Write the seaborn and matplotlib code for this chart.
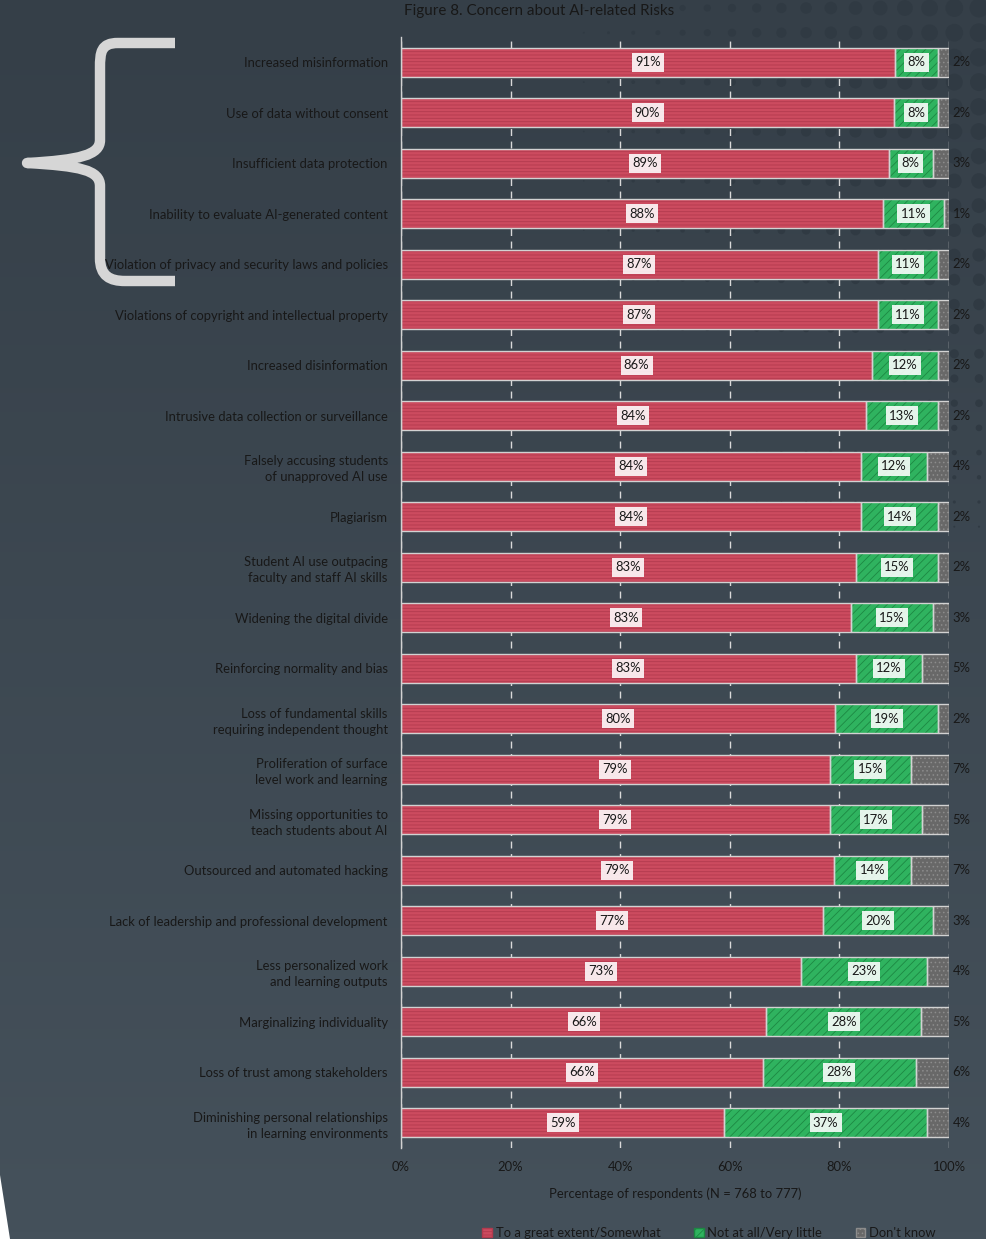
import numpy as np
import pandas as pd
import matplotlib
matplotlib.use("Agg")
import matplotlib.pyplot as plt
import seaborn as sns
from matplotlib.patches import Patch, Polygon, PathPatch
from matplotlib.path import Path
from matplotlib.colors import LinearSegmentedColormap

# ---------------- data ----------------
categories = [
    "Increased misinformation",
    "Use of data without consent",
    "Insufficient data protection",
    "Inability to evaluate AI-generated content",
    "Violation of privacy and security laws and policies",
    "Violations of copyright and intellectual property",
    "Increased disinformation",
    "Intrusive data collection or surveillance",
    "Falsely accusing students\nof unapproved AI use",
    "Plagiarism",
    "Student AI use outpacing\nfaculty and staff AI skills",
    "Widening the digital divide",
    "Reinforcing normality and bias",
    "Loss of fundamental skills\nrequiring independent thought",
    "Proliferation of surface\nlevel work and learning",
    "Missing opportunities to\nteach students about AI",
    "Outsourced and automated hacking",
    "Lack of leadership and professional development",
    "Less personalized work\nand learning outputs",
    "Marginalizing individuality",
    "Loss of trust among stakeholders",
    "Diminishing personal relationships\nin learning environments",
]
great = [91, 90, 89, 88, 87, 87, 86, 84, 84, 84, 83, 83, 83, 80, 79, 79, 79, 77, 73, 66, 66, 59]
little = [8, 8, 8, 11, 11, 11, 12, 13, 12, 14, 15, 15, 12, 19, 15, 17, 14, 20, 23, 28, 28, 37]
dont_know = [2, 2, 3, 1, 2, 2, 2, 2, 4, 2, 2, 3, 5, 2, 7, 5, 7, 3, 4, 5, 6, 4]
series_names = ["To a great extent/Somewhat", "Not at all/Very little", "Don't know"]
xticks = [0, 20, 40, 60, 80, 100]

title = "Figure 8. Concern about AI-related Risks"
xlabel = "Percentage of respondents (N = 768 to 777)"

# ---------------- style ----------------
RED, RED_H = "#cc4b5f", "#b23a4e"
GREEN, GREEN_H = "#2fb35f", "#1d8843"
GRAY, GRAY_H = "#686868", "#8c8c8c"
EDGE = "#d2d2d2"
TXT = "#181818"
FS = 9.4

sns.set_theme(style="white")
plt.rcParams["font.family"] = ["Lato", "DejaVu Sans"]
plt.rcParams["hatch.linewidth"] = 0.6

df = pd.DataFrame({"label": categories, "great": great, "little": little, "dk": dont_know})
tot = df[["great", "little", "dk"]].sum(axis=1)
df["s_great"] = df["great"] / tot * 100
df["s_little"] = df["little"] / tot * 100
df["s_dk"] = df["dk"] / tot * 100
df["cum2"] = df["s_great"] + df["s_little"]
df["cum3"] = df["cum2"] + df["s_dk"]

W, H = 987, 1239
fig = plt.figure(figsize=(W / 100, H / 100), dpi=100)

# ---------- background (gradient, dots, brace, wedge) ----------
bg = fig.add_axes([0, 0, 1, 1], zorder=0)
cmap = LinearSegmentedColormap.from_list("bg", ["#353f48", "#45515b"])
grad = np.linspace(0, 1, 256)[:, None]
bg.imshow(grad, extent=[0, W, H, 0], aspect="auto", cmap=cmap, interpolation="bilinear")
dx, dy, ds = [], [], []
for y in np.arange(8, 600, 24.7):
    hy = 1 - (y / 570) ** 1.5
    if hy <= 0:
        continue
    for x in np.arange(979, 480, -24.7):
        gx = (x - 540) / 440
        d = 19 * gx * hy
        if d > 1.2:
            dx.append(x); dy.append(y); ds.append((d * 0.72) ** 2)
bg.scatter(dx, dy, s=ds, c="#303a43", linewidths=0)
verts = [(175, 43), (118, 43), (101, 43), (100, 52), (100, 68), (100, 140),
         (100, 155), (80, 160), (27, 163), (80, 166), (100, 170), (100, 186),
         (100, 258), (100, 276), (110, 281), (125, 281), (175, 281)]
codes = [Path.MOVETO, Path.LINETO, Path.CURVE4, Path.CURVE4, Path.CURVE4, Path.LINETO,
         Path.CURVE4, Path.CURVE4, Path.CURVE4, Path.CURVE4, Path.CURVE4, Path.CURVE4,
         Path.LINETO, Path.CURVE4, Path.CURVE4, Path.CURVE4, Path.LINETO]
bg.add_patch(PathPatch(Path(verts, codes), fill=False, lw=7.5, edgecolor="#d6d6d6",
                       capstyle="butt", joinstyle="round"))
bg.add_patch(Polygon([(0, 1175), (10, 1239), (0, 1239)], closed=True, fc="white", ec="none"))
bg.set_xlim(0, W)
bg.set_ylim(H, 0)
bg.axis("off")

# ---------------- main axes ----------------
ax = fig.add_axes([401 / W, 1 - 1148 / H, 548 / W, (1148 - 37) / H], zorder=2)
ax.set_facecolor("none")
BW = 0.57
sns.barplot(data=df, x="cum3", y="label", orient="h", color=GRAY, saturation=1, width=BW,
            errorbar=None, edgecolor=GRAY_H, linewidth=0, hatch="....", ax=ax)
sns.barplot(data=df, x="cum2", y="label", orient="h", color=GREEN, saturation=1, width=BW,
            errorbar=None, edgecolor=GREEN_H, linewidth=0, hatch="////", ax=ax)
sns.barplot(data=df, x="s_great", y="label", orient="h", color=RED, saturation=1, width=BW,
            errorbar=None, edgecolor=RED_H, linewidth=0, hatch="-----", ax=ax)
pos = np.arange(len(df))
for left, width in [(0, df["s_great"]), (df["s_great"], df["s_little"]), (df["cum2"], df["s_dk"])]:
    ax.barh(pos, width, left=left, height=BW, fill=False, edgecolor=EDGE, linewidth=1, zorder=3)

box = dict(boxstyle="square,pad=0.25", fc="white", ec="none", alpha=0.88)
for i, r in df.iterrows():
    ax.text(r["s_great"] / 2, i, f"{r['great']}%", ha="center", va="center",
            fontsize=FS, color=TXT, bbox=box, zorder=5)
    ax.text(r["s_great"] + r["s_little"] / 2, i, f"{r['little']}%", ha="center", va="center",
            fontsize=FS, color=TXT, bbox=box, zorder=5)
    ax.annotate(f"{r['dk']}%", xy=(100, i), xytext=(2.5, 0), textcoords="offset points",
                ha="left", va="center", fontsize=FS, color=TXT, annotation_clip=False)

ax.set_xlim(0, 100)
ax.set_ylim(len(df) - 0.5, -0.5)
ax.set_xticks(xticks)
ax.set_xticklabels([f"{t}%" for t in xticks])
ax.set_ylabel("")
ax.set_xlabel(xlabel, fontsize=FS, color=TXT, labelpad=10.5)
ax.tick_params(axis="both", length=0, labelsize=FS, labelcolor=TXT)
ax.tick_params(axis="y", pad=9.5)
ax.tick_params(axis="x", pad=9.5)
for lab in ax.get_yticklabels():
    lab.set_linespacing(1.38)
ax.set_axisbelow(True)
ax.xaxis.grid(True, linestyle=(0, (5, 4)), color="#d9d9d9", linewidth=1)
ax.yaxis.grid(False)
for s in ["top", "right", "bottom"]:
    ax.spines[s].set_visible(False)
ax.spines["left"].set_color(EDGE)
ax.spines["left"].set_linewidth(1)

fig.text(539 / W, 1 - 11 / H, title, ha="center", va="center", fontsize=10.9, color=TXT)

handles = [Patch(facecolor=RED, edgecolor=RED_H, hatch="-----", label=series_names[0]),
           Patch(facecolor=GREEN, edgecolor=GREEN_H, hatch="////", label=series_names[1]),
           Patch(facecolor=GRAY, edgecolor=GRAY_H, hatch="....", label=series_names[2])]
fig.legend(handles=handles, loc="center left", bbox_to_anchor=(482 / W, 1 - 1233 / H), ncol=3,
           frameon=False, handlelength=0.75, handleheight=0.75, handletextpad=0.3,
           columnspacing=2.55, fontsize=FS, labelcolor=TXT, borderaxespad=0, borderpad=0)

fig.savefig("out.png", dpi=100)
